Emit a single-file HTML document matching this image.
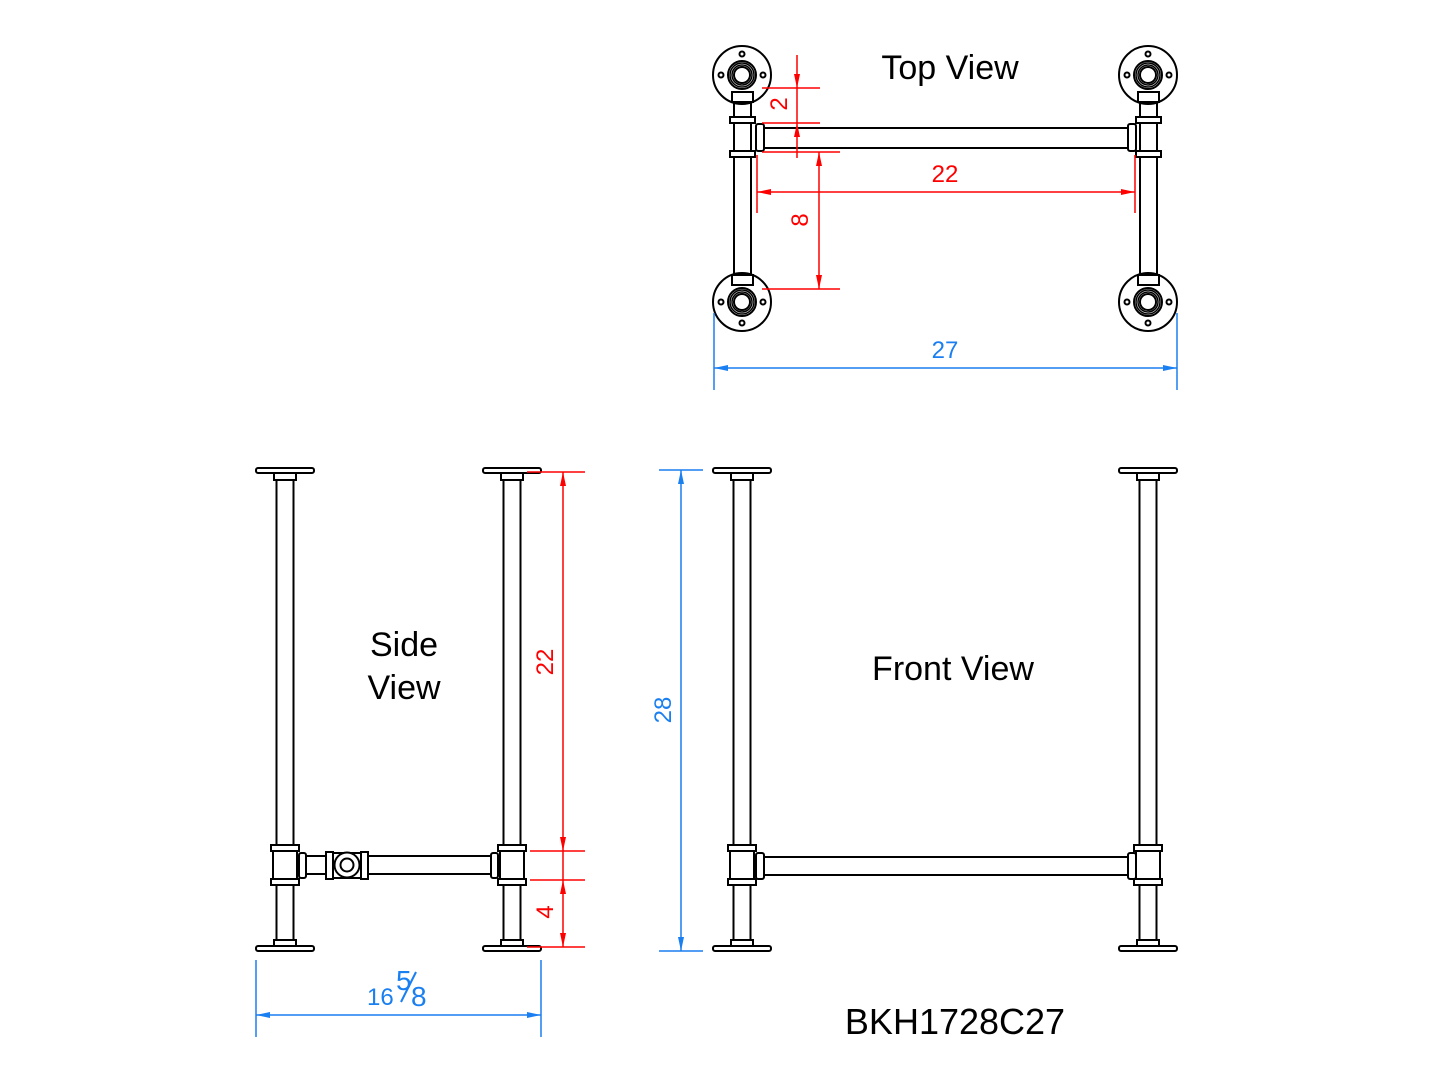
<!DOCTYPE html>
<html><head><meta charset="utf-8"><style>
html,body{margin:0;padding:0;background:#fff;}
svg{display:block}
text{font-family:"Liberation Sans",sans-serif;}
</style></head><body>
<svg width="1445" height="1084" viewBox="0 0 1445 1084" xmlns="http://www.w3.org/2000/svg">
<defs>
<g id="leg" fill="#fff" stroke="#000" stroke-width="2">
  <rect x="-29" y="468" width="58" height="5" rx="2"/>
  <rect x="-11" y="473" width="22" height="7"/>
  <line x1="-8.5" y1="480" x2="-8.5" y2="845"/>
  <line x1="8.5" y1="480" x2="8.5" y2="845"/>
  <line x1="-12" y1="851" x2="-12" y2="879"/>
  <line x1="12" y1="851" x2="12" y2="879"/>
  <rect x="-14" y="845" width="28" height="6"/>
  <rect x="-14" y="879" width="28" height="6"/>
  <line x1="-8.5" y1="885" x2="-8.5" y2="940"/>
  <line x1="8.5" y1="885" x2="8.5" y2="940"/>
  <rect x="-11" y="940" width="22" height="6"/>
  <rect x="-29" y="946" width="58" height="5" rx="2"/>
</g>
<g id="fl" fill="#fff" stroke="#000" stroke-width="2">
  <circle r="29"/>
  <circle cx="-21" cy="0" r="2.5"/><circle cx="21" cy="0" r="2.5"/><circle cx="0" cy="-21" r="2.5"/><circle cx="0" cy="21" r="2.5"/>
  <circle r="14"/><circle r="12" stroke-width="1.5"/><circle r="10" stroke-width="1.5"/><circle r="8"/>
</g>
</defs>

<!-- TOP VIEW -->
<g fill="none" stroke="#000" stroke-width="2">
  <line x1="734" y1="100" x2="734" y2="278"/><line x1="751" y1="100" x2="751" y2="278"/>
  <line x1="1140" y1="100" x2="1140" y2="278"/><line x1="1157" y1="100" x2="1157" y2="278"/>
  <line x1="764" y1="128" x2="1130" y2="128"/><line x1="764" y1="148" x2="1130" y2="148"/>
</g>
<use href="#fl" x="742" y="75"/><use href="#fl" x="1148" y="75"/>
<use href="#fl" x="742" y="302"/><use href="#fl" x="1148" y="302"/>
<g fill="#fff" stroke="#000" stroke-width="2">
  <rect x="732" y="92" width="21" height="10"/><rect x="1138" y="92" width="21" height="10"/>
  <rect x="732" y="275" width="21" height="10"/><rect x="1138" y="275" width="21" height="10"/>
  <rect x="730" y="117" width="25" height="6"/><rect x="730" y="151" width="25" height="6"/>
  <rect x="1136" y="117" width="25" height="6"/><rect x="1136" y="151" width="25" height="6"/>
  <rect x="756" y="124" width="8" height="27" rx="2"/><rect x="1128" y="124" width="8" height="27" rx="2"/>
</g>

<!-- FRONT VIEW -->
<use href="#leg" x="742"/><use href="#leg" x="1148"/>
<g fill="#fff" stroke="#000" stroke-width="2">
  <line x1="764" y1="857" x2="1128" y2="857"/><line x1="764" y1="875" x2="1128" y2="875"/>
  <rect x="756" y="853" width="8" height="26" rx="2"/><rect x="1128" y="853" width="8" height="26" rx="2"/>
</g>

<!-- SIDE VIEW -->
<use href="#leg" x="285"/><use href="#leg" x="512"/>
<g fill="#fff" stroke="#000" stroke-width="2">
  <line x1="306" y1="856" x2="326" y2="856"/><line x1="306" y1="874" x2="326" y2="874"/>
  <line x1="368" y1="856" x2="491" y2="856"/><line x1="368" y1="874" x2="491" y2="874"/>
  <rect x="299" y="853" width="7" height="25" rx="2"/>
  <rect x="326" y="852" width="7" height="27"/>
  <rect x="361" y="852" width="7" height="27"/>
  <line x1="333" y1="853" x2="361" y2="853"/><line x1="333" y1="878" x2="361" y2="878"/>
  <circle cx="347" cy="865" r="12.5"/><circle cx="347" cy="865" r="6.5"/>
  <rect x="491" y="853" width="7" height="25" rx="2"/>
</g>

<!-- RED DIMENSIONS -->
<g stroke="#f00" stroke-width="1.5" fill="#f00">
  <line x1="762" y1="88" x2="820" y2="88"/><line x1="762" y1="123" x2="820" y2="123"/>
  <line x1="762" y1="152" x2="840" y2="152"/><line x1="762" y1="289" x2="840" y2="289"/>
  <line x1="797" y1="55" x2="797" y2="158"/>
  <path d="M797 88 l-3 -14 h6z M797 123 l-3 14 h6z" stroke="none"/>
  <line x1="819" y1="152" x2="819" y2="289"/>
  <path d="M819 152 l-3 14 h6z M819 289 l-3 -14 h6z" stroke="none"/>
  <line x1="757" y1="155" x2="757" y2="213"/><line x1="1135" y1="155" x2="1135" y2="213"/>
  <line x1="757" y1="192" x2="1135" y2="192"/>
  <path d="M757 192 l14 -3 v6z M1135 192 l-14 -3 v6z" stroke="none"/>
  <line x1="527" y1="472" x2="585" y2="472"/><line x1="530" y1="851" x2="585" y2="851"/>
  <line x1="530" y1="880" x2="585" y2="880"/><line x1="527" y1="947" x2="585" y2="947"/>
  <line x1="563" y1="472" x2="563" y2="947"/>
  <path d="M563 472 l-3 14 h6z M563 851 l-3 -14 h6z M563 880 l-3 14 h6z M563 947 l-3 -14 h6z" stroke="none"/>
</g>
<g fill="#f00" font-size="24">
  <text x="945" y="182" text-anchor="middle">22</text>
  <text transform="translate(808,220) rotate(-90)" text-anchor="middle">8</text>
  <text transform="translate(787,104) rotate(-90)" text-anchor="middle">2</text>
  <text transform="translate(553,662) rotate(-90)" text-anchor="middle">22</text>
  <text transform="translate(553,912) rotate(-90)" text-anchor="middle">4</text>
</g>

<!-- BLUE DIMENSIONS -->
<g stroke="#1a7ff0" stroke-width="1.5" fill="#1a7ff0">
  <line x1="714" y1="313" x2="714" y2="390"/><line x1="1177" y1="313" x2="1177" y2="390"/>
  <line x1="714" y1="368" x2="1177" y2="368"/>
  <path d="M714 368 l14 -3 v6z M1177 368 l-14 -3 v6z" stroke="none"/>
  <line x1="659" y1="470" x2="703" y2="470"/><line x1="659" y1="951" x2="703" y2="951"/>
  <line x1="681" y1="470" x2="681" y2="951"/>
  <path d="M681 470 l-3 14 h6z M681 951 l-3 -14 h6z" stroke="none"/>
  <line x1="256" y1="960" x2="256" y2="1037"/><line x1="541" y1="960" x2="541" y2="1037"/>
  <line x1="256" y1="1015" x2="541" y2="1015"/>
  <path d="M256 1015 l14 -3 v6z M541 1015 l-14 -3 v6z" stroke="none"/>
  <line x1="401" y1="1002" x2="416" y2="972" stroke-width="2"/>
</g>
<g fill="#1a7ff0" font-size="24">
  <text x="945" y="358" text-anchor="middle">27</text>
  <text transform="translate(671,710) rotate(-90)" text-anchor="middle">28</text>
  <text x="367" y="1005" font-size="24">16</text>
  <text x="396" y="990" font-size="28">5</text>
  <text x="411" y="1006" font-size="28">8</text>
</g>

<!-- LABELS -->
<g fill="#000" font-size="34">
  <text x="950" y="79" text-anchor="middle">Top View</text>
  <text x="404" y="656" text-anchor="middle">Side</text>
  <text x="404" y="699" text-anchor="middle">View</text>
  <text x="953" y="680" text-anchor="middle">Front View</text>
  <text x="955" y="1034" text-anchor="middle" font-size="36">BKH1728C27</text>
</g>
</svg>
</body></html>
